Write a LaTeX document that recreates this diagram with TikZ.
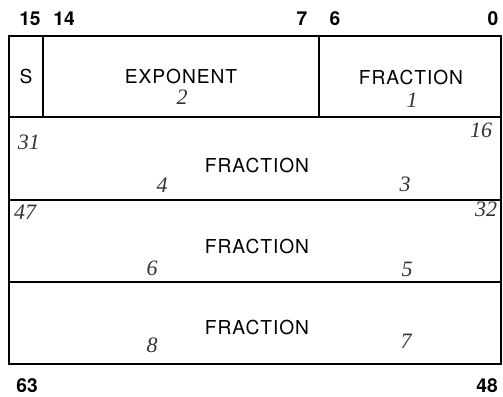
\documentclass[tikz,border=0pt]{standalone}
\usepackage{fontspec}
\setmainfont{TeX Gyre Heros}
\newfontfamily\handfont{Liberation Serif}
\tikzset{
  field/.style={font=\fontsize{9.6}{10}\selectfont\addfontfeatures{LetterSpace=5}},
  bitno/.style={font=\fontsize{9.6}{10}\selectfont\bfseries, inner sep=1pt},
  note/.style={font=\fontsize{11}{12}\handfont\itshape, text=black!80}
}
\begin{document}
\begin{tikzpicture}[x=0.5pt, y=-0.5pt, line width=1pt]
\useasboundingbox (0,0) rectangle (503,396);
% word layout
\draw (9,36) rectangle (501,364);
\draw (9,117)--(501,117);
\draw (9,200)--(501,200);
\draw (9,282)--(501,282);
\draw (43,36)--(43,117);
\draw (319,36)--(319,117);
% bit numbers
\node[bitno] (b15) at (30,19) {15};
\node[bitno] (b14) at (64,19) {14};
\node[bitno] (b7) at (302,19) {7};
\node[bitno] (b6) at (335,19) {6};
\node[bitno] (b0) at (493,19) {0};
\node[bitno] (b63) at (27,386) {63};
\node[bitno] (b48) at (487,386) {48};
% fields
\node[field] (sign) at (26,76) {S};
\node[field] (expo) at (181,76) {EXPONENT};
\node[field] (frac1) at (411,78) {FRACTION};
\node[field] (frac2) at (257,165) {FRACTION};
\node[field] (frac3) at (257,246) {FRACTION};
\node[field] (frac4) at (257,327) {FRACTION};
% pencil notes
\node[note] (n2) at (182,97) {2};
\node[note] (n1) at (412,100) {1};
\node[note] (n31) at (29,142) {31};
\node[note] (n16) at (481,130) {16};
\node[note] (n4) at (162,185) {4};
\node[note] (n3) at (405,184) {3};
\node[note] (n47) at (25,212) {47};
\node[note] (n32) at (486,209) {32};
\node[note] (n6) at (152,268) {6};
\node[note] (n5) at (407,269) {5};
\node[note] (n8) at (152,345) {8};
\node[note] (n7) at (406,341) {7};
\end{tikzpicture}
\end{document}
